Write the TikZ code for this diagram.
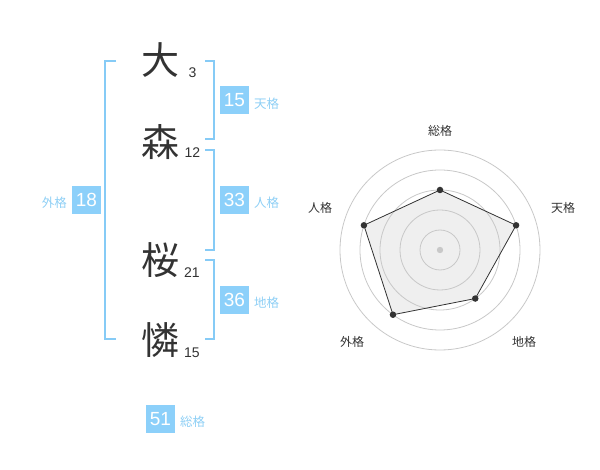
\documentclass[tikz,border=0pt]{standalone}
\usepackage{fontspec}
\usetikzlibrary{calc}
\setmainfont{Liberation Sans}
\newfontfamily\cjk{Noto Sans CJK JP}
\definecolor{boxblue}{HTML}{8CD0FA}
\definecolor{lblblue}{HTML}{8ECFF5}
\definecolor{brk}{HTML}{86CBF6}
\definecolor{ink}{HTML}{333333}
\definecolor{ring}{HTML}{C8C8C8}
\definecolor{polyfill}{HTML}{EFEFEF}
\tikzset{
  kanji/.style={font=\cjk\fontsize{38}{38}\selectfont, text=ink, inner sep=0pt},
  strk/.style={font=\fontsize{14}{14}\selectfont, text=ink, inner sep=0pt, anchor=center},
  numbox/.style={fill=boxblue, text=white, minimum width=29pt, minimum height=28.5pt, inner sep=0pt, font=\fontsize{19}{19}\selectfont},
  kaku/.style={font=\cjk\fontsize{12.5}{12.5}\selectfont, text=lblblue, inner sep=0pt},
  bracket/.style={draw=brk, line width=2pt},
  rlabel/.style={font=\cjk\fontsize{12}{12}\selectfont, text=ink, inner sep=0pt},
  ringst/.style={draw=ring, line width=0.8pt},
  dot/.style={circle, fill=ink, inner sep=0pt, minimum size=6.5pt}
}
\begin{document}
\begin{tikzpicture}[x=1pt,y=-1pt]
\useasboundingbox (0,0) rectangle (600,470);
% kanji
\node[kanji] (k1) at (160,60) {大};
\node[kanji] (k2) at (160,142) {森};
\node[kanji] (k3) at (160,260) {桜};
\node[kanji] (k4) at (160,340) {憐};
\node[strk] (s1) at (192.5,72.5) {3};
\node[strk] (s2) at (192.5,153) {12};
\node[strk] (s3) at (192,272.5) {21};
\node[strk] (s4) at (192,352.5) {15};
% brackets
\draw[bracket] (116,61) -| (105,339) -- (116,339);
\draw[bracket] (205,61) -| (214,139) -- (205,139);
\draw[bracket] (205,150) -| (214,250) -- (205,250);
\draw[bracket] (205,260) -| (214,339) -- (205,339);
% boxes
\node[numbox] (ten) at (234.5,100) {15};
\node[kaku, anchor=west] (tenl) at (254,104) {天格};
\node[numbox] (jin) at (234.5,200) {33};
\node[kaku, anchor=west] (jinl) at (254,203) {人格};
\node[numbox] (chi) at (234.5,300) {36};
\node[kaku, anchor=west] (chil) at (254,303) {地格};
\node[numbox] (gai) at (86.5,200) {18};
\node[kaku, anchor=east] (gail) at (67,203) {外格};
\node[numbox] (sou) at (160.5,419) {51};
\node[kaku, anchor=west] (soul) at (180,422) {総格};
% radar
\coordinate (C) at (440,250);
\path (C) ++(-90:60) coordinate (p1);
\path (C) ++(-18:80) coordinate (p2);
\path (C) ++(54:60) coordinate (p3);
\path (C) ++(126:80) coordinate (p4);
\path (C) ++(-162:80) coordinate (p5);
\fill[polyfill] (p1) -- (p2) -- (p3) -- (p4) -- (p5) -- cycle;
\foreach \r in {20,40,60,80,100} \draw[ringst] (C) circle (\r);
\draw[draw=ink, line width=0.8pt, line join=round] (p1) -- (p2) -- (p3) -- (p4) -- (p5) -- cycle;
\fill[ring] (C) circle (3.2);
\foreach \p in {p1,p2,p3,p4,p5} \node[dot] at (\p) {};
\node[rlabel] (l1) at (440,131) {総格};
\node[rlabel] (l2) at (563,208) {天格};
\node[rlabel] (l3) at (524,342) {地格};
\node[rlabel] (l4) at (352,342) {外格};
\node[rlabel] (l5) at (320,208) {人格};
\end{tikzpicture}
\end{document}
